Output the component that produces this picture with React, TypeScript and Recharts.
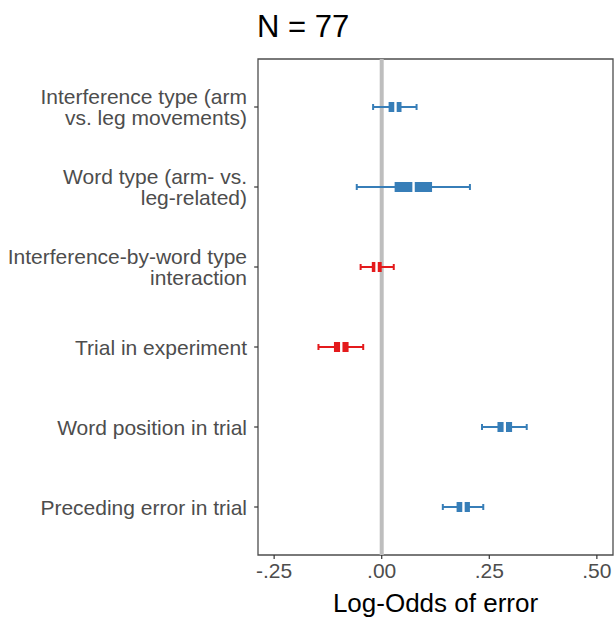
import React from "react";
import {
  ScatterChart,
  Scatter,
  XAxis,
  YAxis,
  ErrorBar,
  ReferenceLine,
  ReferenceArea,
} from "recharts";

// ---- data ----
const categories = [
  "Interference type (arm\nvs. leg movements)",
  "Word type (arm- vs.\nleg-related)",
  "Interference-by-word type\ninteraction",
  "Trial in experiment",
  "Word position in trial",
  "Preceding error in trial",
];
const lower95 = [-0.02, -0.058, -0.049, -0.147, 0.233, 0.142];
const lower50 = [0.016, 0.03, -0.023, -0.111, 0.269, 0.174];
const medians = [0.032, 0.074, -0.012, -0.094, 0.286, 0.19];
const upper50 = [0.046, 0.117, 0.0, -0.077, 0.303, 0.205];
const upper95 = [0.081, 0.205, 0.028, -0.043, 0.337, 0.236];

const xTicks = [-0.25, 0, 0.25, 0.5];
const xTickLabels = ["-.25", ".00", ".25", ".50"];
const title = "N = 77";
const xTitle = "Log-Odds of error";

const X_DOMAIN: [number, number] = [-0.2875, 0.5375];
const Y_DOMAIN: [number, number] = [0.4, 6.6];

const BLUE = "#377EB8";
const RED = "#E41A1C";
const FONT = "'Liberation Sans', Arial, Helvetica, sans-serif";

const rows = categories.map((c, i) => ({
  pos: i + 1,
  label: c,
  median: medians[i],
  whisker: [medians[i] - lower95[i], upper95[i] - medians[i]],
  box: [medians[i] - lower50[i], upper50[i] - medians[i]],
}));
const positiveRows = rows.filter((r) => r.median >= 0);
const negativeRows = rows.filter((r) => r.median < 0);

const MedianMark = (props: any) => {
  const { cx, cy } = props;
  if (cx == null || cy == null) return null;
  return <rect x={cx - 1.2} y={cy - 6} width={2.4} height={12} fill="#ffffff" />;
};

const YTick = (props: any) => {
  const { x, y, payload } = props;
  const idx = Math.round(payload.value) - 1;
  const label = categories[idx] ?? "";
  const lines = label.split("\n");
  const lh = 21;
  const start = -((lines.length - 1) * lh) / 2;
  return (
    <text
      x={x}
      y={y}
      textAnchor="end"
      fill="#4D4D4D"
      fontSize={21}
      fontFamily={FONT}
    >
      {lines.map((ln, k) => (
        <tspan key={k} x={x} y={y + start + k * lh} dy="0.36em">
          {ln}
        </tspan>
      ))}
    </text>
  );
};

const XTick = (props: any) => {
  const { x, y, payload } = props;
  const idx = xTicks.indexOf(payload.value);
  return (
    <text
      x={x}
      y={y}
      dy="0.71em"
      textAnchor="middle"
      fill="#4D4D4D"
      fontSize={21}
      fontFamily={FONT}
    >
      {idx >= 0 ? xTickLabels[idx] : ""}
    </text>
  );
};

export default function App() {
  return (
    <div
      style={{
        position: "absolute",
        left: 0,
        top: 0,
        width: 614,
        height: 617,
        background: "#ffffff",
        fontFamily: FONT,
      }}
    >
      <div
        style={{
          position: "absolute",
          left: 257,
          top: 9,
          fontSize: 31,
          color: "#000",
          fontFamily: FONT,
          lineHeight: "36px",
        }}
      >
        {title}
      </div>
      <ScatterChart
        width={614}
        height={617}
        margin={{ top: 59, right: 1, bottom: 0, left: 0 }}
      >
        <XAxis
          type="number"
          dataKey="median"
          domain={X_DOMAIN}
          ticks={xTicks}
          allowDataOverflow
          height={62}
          tickSize={4}
          tickMargin={4}
          axisLine={false}
          tickLine={{ stroke: "#333333", strokeWidth: 1.2 }}
          tick={<XTick />}
          label={{
            value: xTitle,
            position: "insideBottom",
            offset: 5,
            fill: "#000000",
            fontSize: 26,
            fontFamily: FONT,
          }}
        />
        <YAxis
          type="number"
          dataKey="pos"
          domain={Y_DOMAIN}
          ticks={[1, 2, 3, 4, 5, 6]}
          reversed
          allowDataOverflow
          width={258}
          tickSize={4}
          tickMargin={7}
          axisLine={false}
          tickLine={{ stroke: "#333333", strokeWidth: 1.2 }}
          tick={<YTick />}
          interval={0}
        />
        <ReferenceArea
          x1={X_DOMAIN[0]}
          x2={X_DOMAIN[1]}
          y1={Y_DOMAIN[0]}
          y2={Y_DOMAIN[1]}
          fill="none"
          stroke="#4D4D4D"
          strokeWidth={1.3}
          ifOverflow="visible"
        />
        <ReferenceLine x={0} stroke="#BEBEBE" strokeWidth={4} />
        <Scatter
          data={positiveRows}
          dataKey="median"
          isAnimationActive={false}
          shape={<MedianMark />}
        >
          <ErrorBar
            dataKey="whisker"
            direction="x"
            width={3}
            strokeWidth={2}
            stroke={BLUE}
            isAnimationActive={false}
          />
          <ErrorBar
            dataKey="box"
            direction="x"
            width={0}
            strokeWidth={10}
            stroke={BLUE}
            isAnimationActive={false}
          />
        </Scatter>
        <Scatter
          data={negativeRows}
          dataKey="median"
          isAnimationActive={false}
          shape={<MedianMark />}
        >
          <ErrorBar
            dataKey="whisker"
            direction="x"
            width={3}
            strokeWidth={2}
            stroke={RED}
            isAnimationActive={false}
          />
          <ErrorBar
            dataKey="box"
            direction="x"
            width={0}
            strokeWidth={10}
            stroke={RED}
            isAnimationActive={false}
          />
        </Scatter>
      </ScatterChart>
    </div>
  );
}
